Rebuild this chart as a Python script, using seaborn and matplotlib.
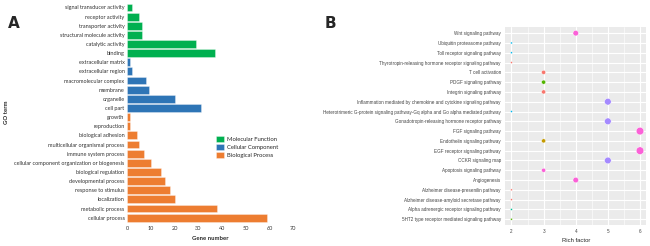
import numpy as np
import pandas as pd
import matplotlib
matplotlib.use('Agg')
import matplotlib.pyplot as plt
import seaborn as sns

# Panel A: GO annotation counts (top to bottom)
mf_terms = ['signal transducer activity', 'receptor activity', 'transporter activity',
            'structural molecule activity', 'catalytic activity', 'binding']
mf_counts = [2, 5, 6, 6, 29, 37]
cc_terms = ['extracellular matrix', 'extracellular region', 'macromolecular complex',
            'membrane', 'organelle', 'cell part']
cc_counts = [1, 2, 8, 9, 20, 31]
bp_terms = ['growth', 'reproduction', 'biological adhesion', 'multicellular organismal process',
            'immune system process', 'cellular component organization or biogenesis',
            'biological regulation', 'developmental process', 'response to stimulus',
            'localization', 'metabolic process', 'cellular process']
bp_counts = [1, 1, 4, 5, 7, 10, 14, 16, 18, 20, 38, 59]
go_classes = ['Molecular Function', 'Cellular Component', 'Biological Process']
go_ticks = [0, 10, 20, 30, 40, 50, 60, 70]

# Panel B: pathway enrichment (top to bottom)
pathways = ['Wnt signaling pathway', 'Ubiquitin proteasome pathway',
            'Toll receptor signaling pathway',
            'Thyrotropin-releasing hormone receptor signaling pathway',
            'T cell activation', 'PDGF signaling pathway', 'Integrin signaling pathway',
            'Inflammation mediated by chemokine and cytokine signaling pathway',
            'Heterotrimeric G-protein signaling pathway-Gq alpha and Go alpha mediated pathway',
            'Gonadotropin-releasing hormone receptor pathway', 'FGF signaling pathway',
            'Endothelin signaling pathway', 'EGF receptor signaling pathway',
            'CCKR signaling map', 'Apoptosis signaling pathway', 'Angiogenesis',
            'Alzheimer disease-presenilin pathway',
            'Alzheimer disease-amyloid secretase pathway',
            'Alpha adrenergic receptor signaling pathway',
            '5HT2 type receptor mediated signaling pathway']
rich_factor = [4, 2, 2, 2, 3, 3, 3, 5, 2, 5, 6, 3, 6, 5, 3, 4, 2, 2, 2, 2]
path_group = [7, 5, 5, 1, 1, 3, 1, 6, 5, 6, 7, 2, 7, 6, 7, 7, 1, 1, 4, 3]
rich_ticks = [2, 3, 4, 5, 6]

go_df = pd.DataFrame({
    'term': mf_terms + cc_terms + bp_terms,
    'count': mf_counts + cc_counts + bp_counts,
    'cls': [go_classes[0]] * len(mf_terms) + [go_classes[1]] * len(cc_terms)
           + [go_classes[2]] * len(bp_terms),
})
pw_df = pd.DataFrame({'pathway': pathways, 'rich': rich_factor, 'grp': path_group})

go_pal = {'Molecular Function': '#00B050', 'Cellular Component': '#2E75B6',
          'Biological Process': '#ED7D31'}
gg_hue = ['#F8766D', '#C49A00', '#53B400', '#00C094', '#00B6EB', '#A58AFF', '#FB61D7']
grp_pal = {i + 1: c for i, c in enumerate(gg_hue)}

sns.set_style('white')
plt.rcParams['font.family'] = ['Lato', 'DejaVu Sans']

fig = plt.figure(figsize=(6.5, 2.46), dpi=100)

# ---- panel A ----
ax1 = fig.add_axes([0.196, 0.093, 0.255, 0.899])
sns.barplot(data=go_df, y='term', x='count', hue='cls', palette=go_pal, dodge=False,
            saturation=1, width=0.86, orient='h', edgecolor=(1, 1, 1, 0.45),
            linewidth=0.5, ax=ax1)
ax1.set_xlim(0, 70)
ax1.set_ylim(len(go_df) - 0.4, -0.6)
ax1.set_xticks(go_ticks)
ax1.tick_params(axis='both', length=0, labelsize=4.0, pad=2, colors='#333333')
for s in ax1.spines.values():
    s.set_visible(False)
ax1.set_xlabel('Gene number', fontsize=4.3, fontweight='bold', labelpad=4)
ax1.set_ylabel('GO term', fontsize=4.3, fontweight='bold', labelpad=4)
ax1.legend(loc='upper left', bbox_to_anchor=(0.52, 0.405), frameon=False, fontsize=4.2,
           handlelength=1.3, handleheight=1.3, handletextpad=0.6, labelspacing=0.3,
           borderaxespad=0)
fig.text(0.012, 0.886, 'A', fontsize=11, fontweight='bold', family='DejaVu Sans')

# ---- panel B ----
ax2 = fig.add_axes([0.777, 0.085, 0.2175, 0.804])
ax2.set_facecolor('#EBEBEB')
sns.scatterplot(data=pw_df, x='rich', y='pathway', hue='grp', palette=grp_pal,
                size='rich', sizes=(2, 30), edgecolor='white', linewidth=0.3,
                legend=False, ax=ax2, zorder=3)
ax2.set_xlim(1.8, 6.2)
ax2.set_ylim(len(pathways) - 0.4, -0.6)
ax2.set_xticks(rich_ticks)
ax2.set_xticks([2.5, 3.5, 4.5, 5.5], minor=True)
ax2.grid(True, which='major', color='white', linewidth=0.8)
ax2.grid(True, which='minor', axis='x', color='white', linewidth=0.4)
ax2.set_axisbelow(True)
for s in ax2.spines.values():
    s.set_visible(False)
ax2.tick_params(axis='both', which='major', length=1.5, width=0.4, color='#555555',
                labelsize=3.35, pad=1.5, labelcolor='#444444')
ax2.tick_params(axis='x', which='minor', length=0)
for lab in ax2.get_yticklabels() + ax2.get_xticklabels():
    lab.set_family(['Liberation Sans', 'DejaVu Sans'])
ax2.set_xlabel('Rich factor', fontsize=4.2, labelpad=3, family='Liberation Sans')
ax2.set_ylabel('')
fig.text(0.499, 0.886, 'B', fontsize=11, fontweight='bold', family='DejaVu Sans')

fig.savefig('out.png', dpi=100)
